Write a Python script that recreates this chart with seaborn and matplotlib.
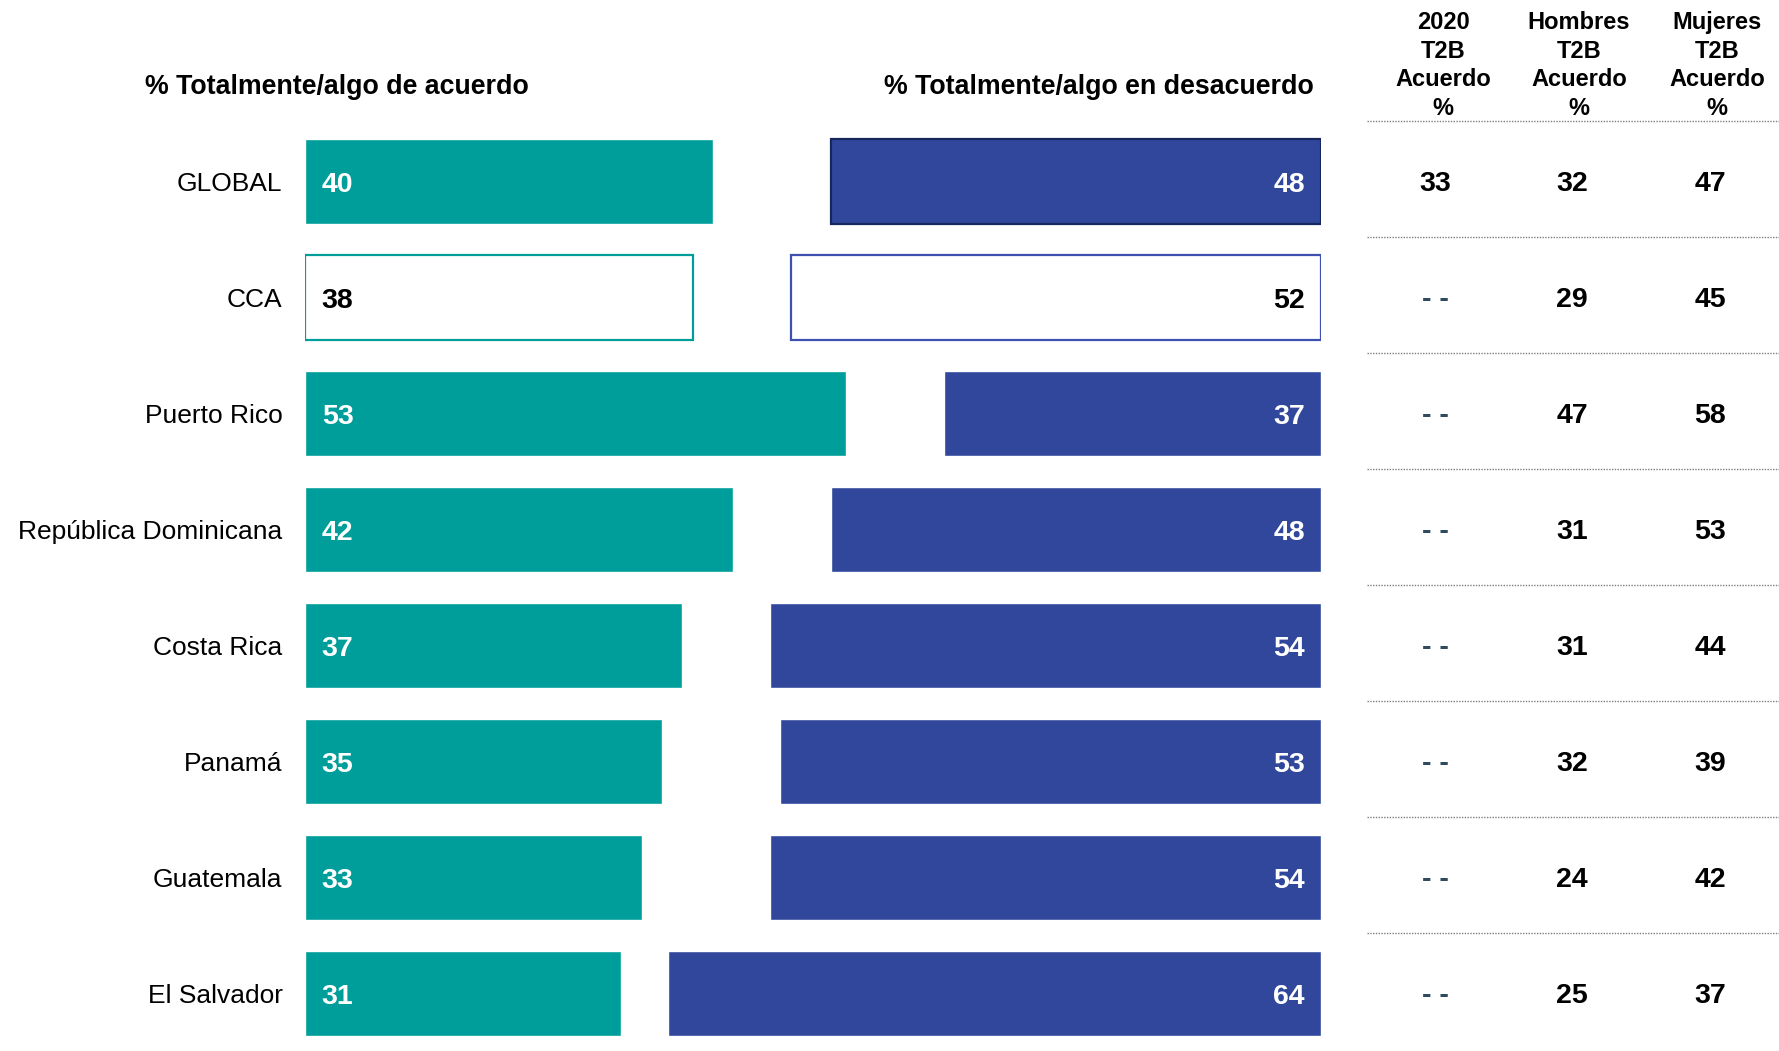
import matplotlib
matplotlib.use("Agg")
import matplotlib.pyplot as plt
import seaborn as sns
import pandas as pd

# ---- data ----
countries = ["GLOBAL", "CCA", "Puerto Rico", "República Dominicana",
             "Costa Rica", "Panamá", "Guatemala", "El Salvador"]
agree = [40, 38, 53, 42, 37, 35, 33, 31]
disagree = [48, 52, 37, 48, 54, 53, 54, 64]
t2b_2020 = ["33", "- -", "- -", "- -", "- -", "- -", "- -", "- -"]
t2b_men = [32, 29, 47, 31, 31, 32, 24, 25]
t2b_women = [47, 45, 58, 53, 44, 39, 42, 37]
col_headers = ["2020\nT2B\nAcuerdo\n%", "Hombres\nT2B\nAcuerdo\n%", "Mujeres\nT2B\nAcuerdo\n%"]
title_agree = "% Totalmente/algo de acuerdo"
title_disagree = "% Totalmente/algo en desacuerdo"

df = pd.DataFrame({"pais": countries, "acuerdo": agree, "desacuerdo": disagree})

TEAL = "#009E9A"
BLUE = "#30479C"
NAVY = "#16275E"
CCA_BLUE = "#3F51AE"
DASH = "#2E4A5E"

sns.set_theme(style="white")
plt.rcParams["font.family"] = ["Liberation Sans", "DejaVu Sans"]

W, H = 1779, 1051
fig = plt.figure(figsize=(W / 100, H / 100), dpi=100)

pitch = 116.0
row0 = 181.5
y_top, y_bot = -0.6, 7.4
ax_top_px = row0 + y_top * pitch
ax_bot_px = row0 + y_bot * pitch
ax_b = 1 - ax_bot_px / H
ax_h = (ax_bot_px - ax_top_px) / H
scale = 10.2  # px per percentage point

# left panel: agreement bars
left_px = 305
ax_l = fig.add_axes([left_px / W, ax_b, 60 * scale / W, ax_h])
ax_l.patch.set_alpha(0)
# right panel: disagreement bars, growing leftwards from the right edge
right_px = 1321
ax_r = fig.add_axes([(right_px - 70 * scale) / W, ax_b, 70 * scale / W, ax_h])
ax_r.patch.set_alpha(0)
# table panel
tab_l, tab_r = 1367, 1779
ax_t = fig.add_axes([tab_l / W, ax_b, (tab_r - tab_l) / W, ax_h])
ax_t.patch.set_alpha(0)

bar_h = 85 / pitch
sns.barplot(data=df, y="pais", x="acuerdo", order=countries, orient="h",
            color=TEAL, saturation=1, width=bar_h, ax=ax_l)
sns.barplot(data=df, y="pais", x="desacuerdo", order=countries, orient="h",
            color=BLUE, saturation=1, width=bar_h, ax=ax_r)

for ax in (ax_l, ax_r, ax_t):
    ax.set_ylim(y_bot, y_top)
    for s in ax.spines.values():
        s.set_visible(False)
    ax.set_xlabel("")
    ax.set_ylabel("")
    ax.set_xticks([])

ax_l.set_xlim(0, 60)
ax_r.set_xlim(70, 0)
ax_t.set_xlim(tab_l, tab_r)

# bar styling
pl = ax_l.patches
pr = ax_r.patches
pl[1].set_facecolor("white")
pl[1].set_edgecolor(TEAL)
pl[1].set_linewidth(1.6)
pr[1].set_facecolor("white")
pr[1].set_edgecolor(CCA_BLUE)
pr[1].set_linewidth(1.6)
pr[0].set_edgecolor(NAVY)
pr[0].set_linewidth(1.6)

# category labels
ax_l.set_yticks(range(len(countries)))
ax_l.set_yticklabels(countries, fontsize=19, color="black")
ax_l.tick_params(axis="y", length=0, pad=16.2)
ax_r.set_yticks([])
ax_t.set_yticks([])

# values on bars
for i, (a, d) in enumerate(zip(agree, disagree)):
    c = "black" if countries[i] == "CCA" else "white"
    ax_l.annotate(f"{a}", xy=(0, i), xytext=(12, -2.8), textcoords="offset points",
                  ha="left", va="center", fontsize=20.5, fontweight="bold", color=c)
    ax_r.annotate(f"{d}", xy=(0, i), xytext=(-11.7, -2.8), textcoords="offset points",
                  ha="right", va="center", fontsize=20.5, fontweight="bold", color=c)

# table
val_x = [1435, 1572, 1710]
hdr_x = [1443, 1579, 1717]


def cell(x, y, s, color="black"):
    ax_t.annotate(s, xy=(x, y), xytext=(0, -1.6), textcoords="offset points",
                  ha="center", va="center", fontsize=20.5, fontweight="bold",
                  color=color)


for i in range(len(countries)):
    v0 = t2b_2020[i]
    cell(val_x[0], i, v0, DASH if v0.strip("- ") == "" else "black")
    cell(val_x[1], i, str(t2b_men[i]))
    cell(val_x[2], i, str(t2b_women[i]))

# dotted separators
sep_y = [-0.52] + [i + 0.48 for i in range(len(countries) - 1)]
for y in sep_y:
    ax_t.plot([tab_l, tab_r], [y, y], color="#7F7F7F", linewidth=1.0,
              linestyle=(0, (1, 1)), clip_on=False)

# column headers
for x, h in zip(hdr_x, col_headers):
    fig.text(x / W, 1 - 65.5 / H, h, ha="center", va="center", fontsize=17,
             fontweight="bold", linespacing=1.33, color="black")

# panel titles
fig.text(145 / W, 1 - 87 / H, title_agree, ha="left", va="center",
         fontsize=19.3, fontweight="bold", color="black")
fig.text(1314 / W, 1 - 87 / H, title_disagree, ha="right", va="center",
         fontsize=19.3, fontweight="bold", color="black")

fig.savefig("out.png", dpi=100, facecolor="white")
